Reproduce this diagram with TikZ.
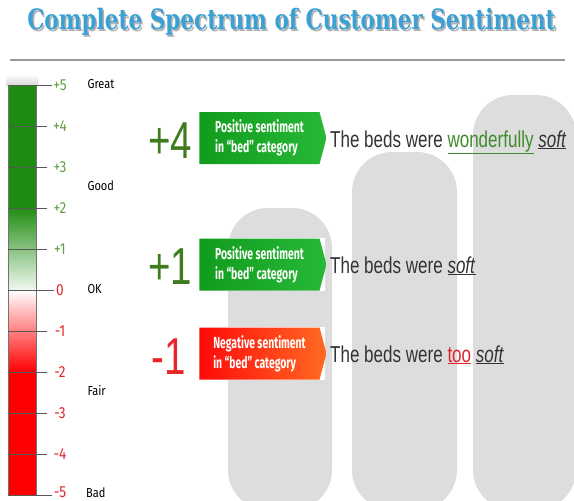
\documentclass[tikz,border=0pt]{standalone}
\usepackage{fontspec}
\usetikzlibrary{shapes.symbols}
\setmainfont{Liberation Sans}
\newfontfamily\titlefont[FakeStretch=0.77]{DejaVu Serif}
\newfontfamily\condfont[FakeStretch=0.65]{Fira Sans}
\newfontfamily\scalefont[FakeStretch=0.85]{Fira Sans}
\newfontfamily\narrowfont[FakeStretch=0.74]{Liberation Sans}

\definecolor{titleblue}{HTML}{3BA0D3}
\definecolor{bargreen}{HTML}{1E8C10}
\definecolor{barred}{HTML}{FF0000}
\definecolor{tickgreen}{HTML}{5FA048}
\definecolor{tickred}{HTML}{E4242B}
\definecolor{scoregreen}{HTML}{3E7A1E}
\definecolor{scorered}{HTML}{E8262A}
\definecolor{badgegreenA}{HTML}{119C1C}
\definecolor{badgegreenB}{HTML}{28B838}
\definecolor{badgeredA}{HTML}{FF0A0A}
\definecolor{badgeredB}{HTML}{FF6A22}
\definecolor{pillar}{HTML}{DDDDDD}
\definecolor{textgray}{HTML}{333333}
\definecolor{wordgreen}{HTML}{3F8A2A}
\definecolor{wordred}{HTML}{E0202A}

\tikzset{badge/.style = {signal, signal to=east, signal pointer angle=150,
                         minimum width=127pt, minimum height=52pt, inner sep=0pt,
                         text=white, align=left,
                         font=\condfont\bfseries\fontsize{16}{20}\selectfont,
                         left color=badge#1A, right color=badge#1B},
         score/.style = {font=\narrowfont\fontsize{52}{52}\selectfont},
         sentence/.style = {anchor=base west, text=textgray, inner sep=0pt,
                            font=\narrowfont\fontsize{23}{26}\selectfont},
         level/.style = {anchor=west, text=black, font=\scalefont\fontsize{13}{15}\selectfont},
         tick/.style = {draw=black!65, line width=0.8pt}
        }

\begin{document}
\begin{tikzpicture}[x=1pt, y=-1pt]
  \useasboundingbox (0,0) rectangle (574,501);
  \node[text=gray!60, font=\titlefont\bfseries\fontsize{28}{30}\selectfont] at (293,23.5) {Complete Spectrum of Customer Sentiment};
  \node[text=titleblue, font=\titlefont\bfseries\fontsize{28}{30}\selectfont] (title) at (291.5,22) {Complete Spectrum of Customer Sentiment};
  \draw[gray!80, line width=2pt] (10,60) -- (565,60);
  \foreach \l/\r/\t in {228/332/208, 352/457/152, 473/576/95}
      {\fill[pillar, rounded corners=40pt] (\l, 510) -- (\l, \t) -- (\r, \t) -- (\r, 510) -- cycle;};
  \shade[top color=white, bottom color=gray!30] (6,74) rectangle (38,85);
  \fill[bargreen] (8,85) rectangle (36,207);
  \shade[top color=bargreen, bottom color=bargreen!6] (8,207) rectangle (36,290);
  \shade[top color=white, bottom color=barred] (8,290) rectangle (36,372);
  \fill[barred] (8,372) rectangle (36,495);
  \draw[black!55, line width=0.8pt] (8,85) rectangle (36,495);
  \foreach \v/\lbl/\len/\col in {5/+5/52/tickgreen, 4/+4/47/tickgreen, 3/+3/47/tickgreen, 2/+2/47/tickgreen, 1/+1/47/tickgreen,
                                 0/0/54/tickred, -1/-1/47/tickred, -2/-2/47/tickred, -3/-3/47/tickred, -4/-4/47/tickred, -5/-5/52/tickred}
      {\draw[tick] (8, 290 - 41*\v) -- (\len, 290 - 41*\v);
       \node[text=\col, inner sep=0pt, font=\scalefont\fontsize{16}{18}\selectfont] (t\v) at (60, {min(290 - 41*\v, 492)}) {\lbl};};
  \node[level] (great) at (84,84) {Great};
  \node[level] (good) at (84,186) {Good};
  \node[level] (ok) at (84,289) {OK};
  \node[level] (fair) at (84,391) {Fair};
  \node[level, inner sep=1pt] (bad) at (85,493) {Bad};
  \fill[white] (196,238) rectangle (325,291);
  \fill[white] (196,327) rectangle (325,380);
  \node[badge=green] (b1) at (259.5,138) {Positive sentiment\\in “bed” category};
  \node[badge=green] (b2) at (259.5,264.5) {Positive sentiment\\in “bed” category};
  \node[badge=red] (b3) at (259.5,353.5) {Negative sentiment\\in “bed” category};
  \node[score, text=scoregreen] (s1) at (170,141) {+4};
  \node[score, text=scoregreen] (s2) at (170,267) {+1};
  \node[score, text=scorered] (s3) at (169,357) {-1};
  \node[sentence] (p1) at (330,147) {The beds were \textcolor{wordgreen}{\underline{wonderfully}} \underline{\textit{soft}}};
  \node[sentence] (p2) at (330,273) {The beds were \underline{\textit{soft}}};
  \node[sentence] (p3) at (330,362) {The beds were \textcolor{wordred}{\underline{too}} \underline{\textit{soft}}};
\end{tikzpicture}
\end{document}
